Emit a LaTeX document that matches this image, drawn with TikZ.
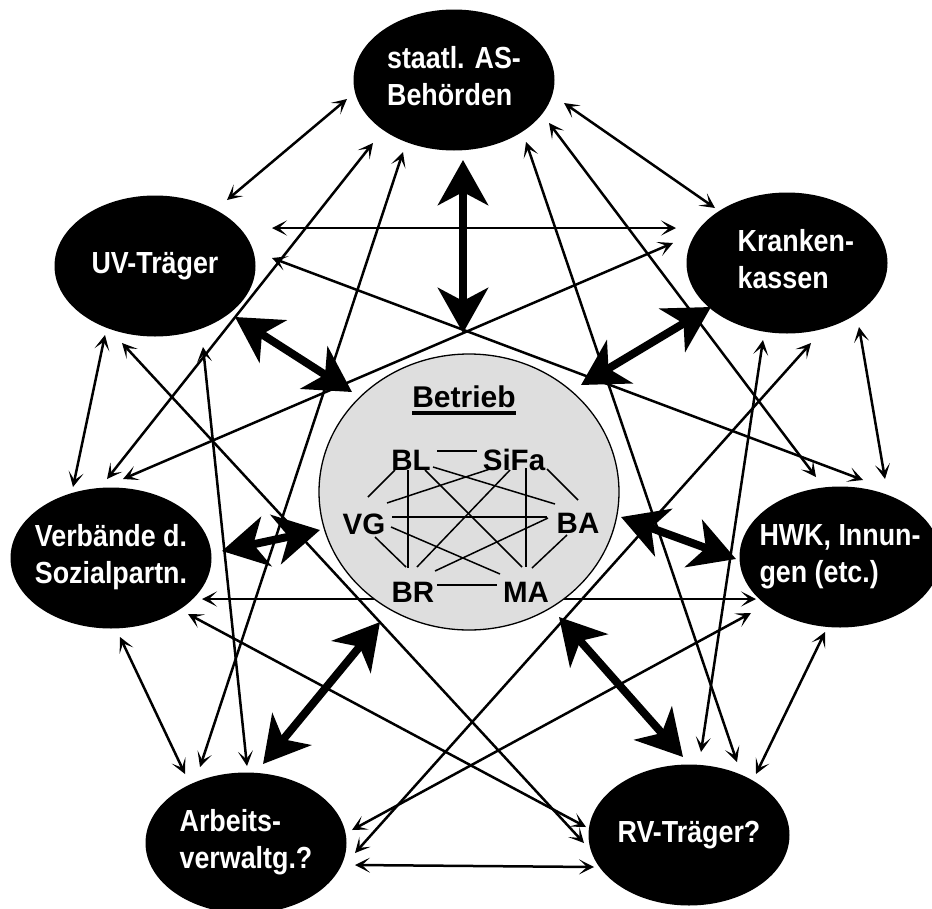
\documentclass[tikz,border=0pt]{standalone}
\usepackage{fontspec}
\setmainfont{Liberation Sans}
\usetikzlibrary{arrows.meta,shapes.geometric,calc}
\newcommand\betul[1]{\setbox0\hbox{#1}\leavevmode\rlap{\raisebox{-7.5pt}{\rule{\wd0}{3.5pt}}}\box0}
\newcommand\otext[2][0pt]{\scalebox{0.88}[1]{\begin{tabular}{@{\hspace{#1}}l@{}}#2\end{tabular}}}
\tikzset{
  outer/.style={ellipse, fill=black, minimum width=201pt, minimum height=141pt,
    inner sep=-14pt, text=white,
    font=\bfseries\fontsize{30.5}{37}\selectfont},
  link/.style={line width=2.5pt,
    {Stealth[length=15pt,width=15pt,inset=8pt]}-{Stealth[length=15pt,width=15pt,inset=8pt]}},
  bigarrow/.style={line width=8pt,
    {Stealth[length=45pt,width=50pt,inset=13pt]}-{Stealth[length=45pt,width=50pt,inset=13pt]}},
  inlab/.style={font=\bfseries\fontsize{29.5}{34}\selectfont, inner sep=0pt},
  inline/.style={line width=1.5pt}
}
\begin{document}
\begin{tikzpicture}[x=1pt,y=-1pt]
\useasboundingbox (0,0) rectangle (932,908);
\clip (0,0) rectangle (932,908);
% outer nodes
\node[outer] (A) at (454,80) {\otext{staatl. AS-\\Behörden}};
\node[outer] (U) at (155,266) {\otext{UV-Träger}};
\node[outer] (K) at (787,263) {\otext[20pt]{Kranken-\\kassen}};
\node[outer] (V) at (111,558) {\otext{Verbände d.\\Sozialpartn.}};
\node[outer] (H) at (840,557) {\otext{HWK, Innun-\\gen (etc.)}};
\node[outer] (W) at (246,843) {\otext{Arbeits-\\verwaltg.?}};
\node[outer] (R) at (689,835) {\otext{RV-Träger?}};
% ring connectors
\draw[link] ($(A)+(-107,19)$) -- ($(U)+(72,-66)$);
\draw[link] ($(A)+(110,23)$) -- ($(K)+(-72,-55)$);
\draw[link] ($(K)+(72,64)$) -- ($(H)+(45,-78)$);
\draw[link] ($(H)+(-15,75)$) -- ($(R)+(67,-61)$);
\draw[link] ($(R)+(-95,32)$) -- ($(W)+(109,22)$);
\draw[link] ($(W)+(-61,-69)$) -- ($(V)+(9,79)$);
\draw[link] ($(V)+(-38,-71)$) -- ($(U)+(-50,69)$);
% long connectors
\draw[link] ($(U)+(117,-38)$) -- ($(K)+(-111,-35)$);
\draw[link] ($(V)+(91,41)$) -- ($(H)+(-84,42)$);
\draw[link] ($(U)+(117,-8)$) -- ($(H)+(23,-77)$);
\draw[link] ($(V)+(12,-79)$) -- ($(K)+(-114,-20)$);
\draw[link] ($(A)+(-81,63)$) -- ($(V)+(-4,-79)$);
\draw[link] ($(A)+(-51,72)$) -- ($(W)+(-46,-76)$);
\draw[link] ($(A)+(72,62)$) -- ($(R)+(48,-73)$);
\draw[link] ($(A)+(95,43)$) -- ($(H)+(-24,-80)$);
\draw[link] ($(U)+(48,81)$) -- ($(W)+(1,-77)$);
\draw[link] ($(U)+(-33,77)$) -- ($(R)+(-105,8)$);
\draw[link] ($(K)+(24,80)$) -- ($(W)+(109,10)$);
\draw[link] ($(K)+(-24,77)$) -- ($(R)+(12,-83)$);
\draw[link] ($(H)+(-89,56)$) -- ($(W)+(106,-13)$);
\draw[link] ($(V)+(77,56)$) -- ($(R)+(-103,-8)$);
% Betrieb
\node[ellipse, draw, line width=1.3pt, fill=black!13, minimum width=300pt,
  minimum height=276pt, inner sep=0pt] (B) at (469,492) {};
\node[font=\bfseries\fontsize{30}{34}\selectfont, inner sep=0pt, anchor=base] (T) at (464,407) {\betul{Betrieb}};
\node[inlab] (BL) at (411,460) {BL};
\node[inlab] (SiFa) at (514,460) {SiFa};
\node[inlab] (VG) at (364,524) {VG};
\node[inlab] (BA) at (578,523) {BA};
\node[inlab] (BR) at (413,592) {BR};
\node[inlab] (MA) at (526,592) {MA};
\draw[inline] ($(BL)+(26,-9)$) -- ($(SiFa)+(-37,-9)$);
\draw[inline] ($(BL)+(-16,10)$) -- ($(VG)+(4,-27)$);
\draw[inline] ($(BL)+(-3,10)$) -- ($(BR)+(-5,-24)$);
\draw[inline] ($(BL)+(14,10)$) -- ($(MA)+(-4,-25)$);
\draw[inline] ($(BL)+(22,7)$) -- ($(BA)+(-23,-19)$);
\draw[inline] ($(SiFa)+(-21,8)$) -- ($(VG)+(23,-21)$);
\draw[inline] ($(SiFa)+(-4,10)$) -- ($(BR)+(4,-25)$);
\draw[inline] ($(SiFa)+(12,8)$) -- ($(MA)+(0,-25)$);
\draw[inline] ($(SiFa)+(33,9)$) -- ($(BA)+(0,-23)$);
\draw[inline] ($(VG)+(28,-7)$) -- ($(BA)+(-31,-6)$);
\draw[inline] ($(VG)+(11,13)$) -- ($(BR)+(-7,-25)$);
\draw[inline] ($(VG)+(27,3)$) -- ($(MA)+(-26,-18)$);
\draw[inline] ($(BA)+(-30,-5)$) -- ($(BR)+(22,-21)$);
\draw[inline] ($(BA)+(-11,12)$) -- ($(MA)+(6,-24)$);
\draw[inline] ($(BR)+(24,-7)$) -- ($(MA)+(-29,-7)$);
% thick connectors
\draw[bigarrow] ($(B)+(-6,-159)$) -- ($(A)+(9,80)$);
\draw[bigarrow] ($(B)+(-117,-100)$) -- ($(U)+(80,51)$);
\draw[bigarrow] ($(B)+(112,-107)$) -- ($(K)+(-76,44)$);
\draw[bigarrow] ($(B)+(-149,38)$) -- ($(V)+(111,-7)$);
\draw[bigarrow] ($(B)+(152,25)$) -- ($(H)+(-104,2)$);
\draw[bigarrow] ($(B)+(-89,130)$) -- ($(W)+(17,-79)$);
\draw[bigarrow] ($(B)+(90,125)$) -- ($(R)+(-6,-78)$);
\end{tikzpicture}
\end{document}
